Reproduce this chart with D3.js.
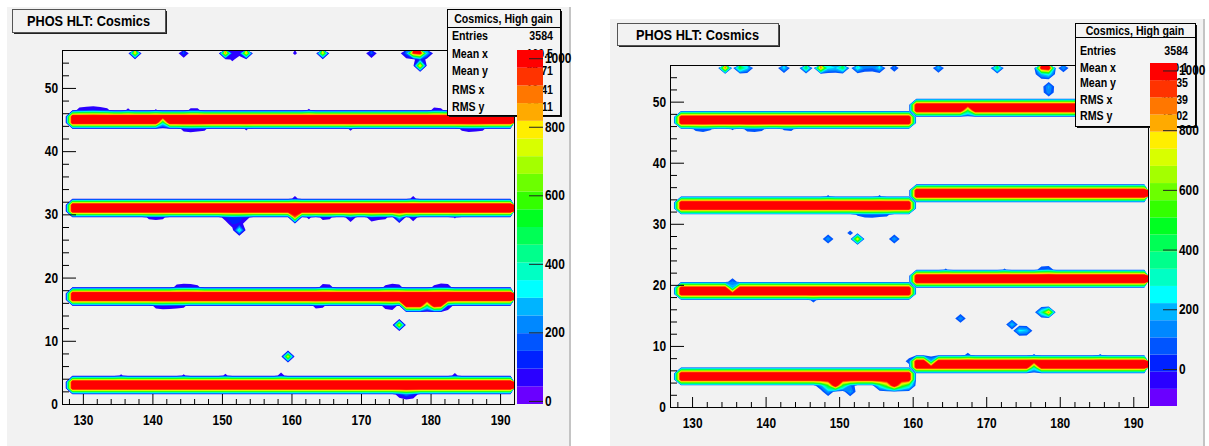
<!DOCTYPE html>
<html>
<head>
<meta charset="utf-8">
<script src="https://cdn.jsdelivr.net/npm/d3@7"></script>
<style>
  body { margin: 0; background: #fff; }
  text { font-family: "Liberation Sans", Arial, sans-serif; font-weight: bold; }
</style>
</head>
<body>
<svg width="1209" height="446"></svg>
<script>
var svg = d3.select("svg");

// colour bands of the palette, bottom to top
var palette = ["#6a00ff","#2a00ff","#0022ff","#0055ff","#0088ff","#00b4ff","#00ffff","#00ffc4",
  "#00ff8c","#00ff55","#00ff22","#33ff00","#6cff00","#a4ff00","#d8ff00","#ffee00",
  "#ffaa00","#ff7700","#ff3300","#ff0000"];

var xMajor = [130, 140, 150, 160, 170, 180, 190];
var yMajor = [0, 10, 20, 30, 40, 50];
var zMajor = [0, 200, 400, 600, 800, 1000];

var leftZRange = [-9, 1024];
var rightZRange = [-124, 1025];

// histogram grid: x bins 127..191 (width 1), y bins 0..55
var xFirstBin = 127, nx = 65, ny = 56;

// tracks: [y bin, first x bin, last x bin + 1, content]
var leftTracks = [
  [2,128,192,1160],[3,128,192,1160],[16,128,192,1160],[17,128,192,1160],
  [30,128,192,1160],[31,128,192,1160],[44,128,192,1160],[45,128,192,1160]
];
var rightTracks = [
  [4,128,160,1150],[5,128,160,1150],[6,160,192,1150],[7,160,192,1150],
  [18,128,160,1150],[19,128,160,1150],[20,160,192,1150],[21,160,192,1150],
  [32,128,160,1150],[33,128,160,1150],[34,160,192,1150],[35,160,192,1150],
  [46,128,160,1150],[47,128,160,1150],[48,160,192,1150],[49,160,192,1150]
];

// single bins: [x bin, y bin, content]
var leftHits = [
  [137,55,850],[144,55,160],[150,55,900],[151,55,90],[152,55,80],[153,55,850],[151,54,60],
  [160,55,60],[164,55,800],[171,55,180],[176,55,200],[177,55,1000],[178,55,1100],[179,55,300],
  [178,54,160],[178,53,880],
  [141,44,400],
  [129,46,70],[130,46,90],[131,46,110],[132,46,80],[133,46,60],[136,46,60],[140,46,50],
  [145,46,60],[146,46,60],[162,46,55],[180,46,70],[181,46,60],
  [144,43,70],[145,43,90],[146,43,70],[147,43,60],[153,43,55],[168,43,60],
  [184,43,60],[185,43,80],[186,43,70],[187,43,60],
  [160,32,70],[177,32,70],
  [160,29,900],[168,29,150],[171,29,120],[175,29,350],[177,29,100],
  [139,29,60],[140,29,70],[141,29,60],[150,29,90],[151,29,120],[152,29,110],[153,29,80],
  [162,29,60],[164,29,70],[165,29,60],[172,29,70],[173,29,60],[183,29,50],
  [151,28,100],[152,28,90],[152,27,420],
  [176,15,1100],[177,15,1100],[178,15,1100],[179,15,450],[180,15,1100],[181,15,1000],
  [143,18,70],[144,18,90],[145,18,80],[146,18,60],[164,18,80],[165,18,70],
  [173,18,60],[174,18,90],[175,18,70],[180,18,60],[181,18,100],[182,18,80],
  [140,15,70],[141,15,90],[142,15,80],[143,15,70],[144,15,60],[163,15,70],[164,15,60],
  [173,15,80],[174,15,120],[182,15,120],
  [175,12,800],[159,7,800],
  [135,4,55],[144,4,55],[150,4,60],[158,4,80],[183,4,70],
  [175,1,90],[176,1,200],[177,1,120]
];
var rightHits = [
  [134,55,900],[136,55,500],[137,55,250],[142,55,250],[145,55,450],[147,55,900],[148,55,250],
  [149,55,220],[150,55,450],[152,55,300],[153,55,120],[154,55,110],[155,55,250],[157,55,120],
  [163,55,200],[171,55,450],[177,55,1100],[178,55,1200],[177,54,200],[178,54,300],[180,55,160],
  [178,52,180],[178,51,150],
  [167,48,450],
  [130,45,70],[131,45,90],[132,45,60],[135,45,60],[137,45,80],[138,45,90],[139,45,70],
  [142,45,60],[143,45,70],
  [148,34,60],[155,34,60],
  [152,31,60],[153,31,90],[154,31,100],[155,31,80],[156,31,70],
  [148,27,180],[152,27,800],[151,28,80],[157,27,180],
  [135,19,200],[135,20,120],[146,17,80],
  [164,22,60],[172,22,60],[177,22,100],[178,22,120],
  [166,14,170],[173,13,230],[174,12,260],[175,12,220],[177,15,350],[178,15,900],
  [147,3,150],[148,3,500],[149,3,1150],[150,3,450],[151,3,120],
  [155,3,300],[156,3,600],[157,3,1150],[158,3,600],[159,3,350],
  [148,2,170],[151,2,180],
  [162,7,200],[176,6,350],[159,7,90],
  [167,8,80],[176,8,60],[185,8,60]
];

var statNames = ["Entries", "Mean x", "Mean y", "RMS x", "RMS y"];
var leftStats = ["3584", "160.5", "23.71", "18.41", "16.11"];
var rightStats = ["3584", "160.1", "26.35", "18.39", "15.02"];
var titleText = "PHOS HLT: Cosmics";
var statsTitle = "Cosmics, High gain";

function buildGrid(tracks, hits) {
  var v = new Array(nx * ny).fill(0);
  tracks.forEach(function(t) {
    for (var x = t[1]; x < t[2]; x++) v[t[0] * nx + (x - xFirstBin)] = t[3];
  });
  hits.forEach(function(h) { v[h[1] * nx + (h[0] - xFirstBin)] = h[2]; });
  return v;
}

function styleText(sel, size) {
  sel.selectAll("text").attr("font-family", null).attr("font-size", size)
    .attr("fill", "#000");
}

function drawPanel(id, c, tracks, hits, zRange, stats) {
  var g = svg.append("g");

  // canvas
  g.append("rect").attr("x", c.canvas[0]).attr("y", c.canvas[1])
    .attr("width", c.canvas[2]).attr("height", c.canvas[3]).attr("fill", "#f2f2f2");
  g.append("rect").attr("x", c.canvas[0] + c.canvas[2]).attr("y", c.canvas[1])
    .attr("width", 2).attr("height", c.canvas[3]).attr("fill", "#c4c4c4");

  var xs = d3.scaleLinear().domain([127, 192]).range([c.frame[0], c.frame[2]]);
  var ys = d3.scaleLinear().domain([0, 56]).range([c.frame[3], c.frame[1]]);

  g.append("clipPath").attr("id", "clip" + id).append("rect")
    .attr("x", c.frame[0]).attr("y", c.frame[1])
    .attr("width", c.frame[2] - c.frame[0]).attr("height", c.frame[3] - c.frame[1]);

  // contours
  var step = (zRange[1] - zRange[0]) / palette.length;
  var levels = d3.range(1, palette.length).map(function(k) { return zRange[0] + k * step; })
    .filter(function(t) { return t > 0; });
  var values = buildGrid(tracks, hits);
  var contours = d3.contours().size([nx, ny]).thresholds(levels)(values);
  var proj = d3.geoTransform({
    point: function(x, y) { this.stream.point(xs(xFirstBin + x), ys(y)); }
  });
  var path = d3.geoPath(proj);
  g.append("g").attr("clip-path", "url(#clip" + id + ")")
    .selectAll("path").data(contours).join("path")
    .attr("d", path)
    .attr("fill", function(d) { return palette[Math.round((d.value - zRange[0]) / step)]; });

  // axes
  var xMinor = d3.range(128, 192, 2).filter(function(v) { return v % 10 !== 0; });
  var yMinor = d3.range(0, 56, 2).filter(function(v) { return v % 10 !== 0; });
  var bottom = c.frame[3], left = c.frame[0];

  g.append("g").attr("transform", "translate(0," + bottom + ")")
    .call(d3.axisBottom(xs).tickValues(xMinor).tickSize(-5).tickFormat(""));
  var gx = g.append("g").attr("transform", "translate(0," + bottom + ")")
    .call(d3.axisBottom(xs).tickValues(xMajor).tickSize(-10).tickPadding(11));
  styleText(gx, 14);
  g.append("g").attr("transform", "translate(" + left + ",0)")
    .call(d3.axisLeft(ys).tickValues(yMinor).tickSize(-7).tickFormat(""));
  var gy = g.append("g").attr("transform", "translate(" + left + ",0)")
    .call(d3.axisLeft(ys).tickValues(yMajor).tickSize(-14).tickPadding(4));
  styleText(gy, 14);
  g.selectAll(".domain").remove();

  g.append("rect").attr("x", c.frame[0] + 0.5).attr("y", c.frame[1] + 0.5)
    .attr("width", c.frame[2] - c.frame[0]).attr("height", c.frame[3] - c.frame[1])
    .attr("fill", "none").attr("stroke", "#000");

  // title box
  var t = c.title;
  g.append("rect").attr("x", t[0] + 2).attr("y", t[1] + 2).attr("width", t[2]).attr("height", t[3])
    .attr("fill", "#222");
  g.append("rect").attr("x", t[0] + 0.5).attr("y", t[1] + 0.5).attr("width", t[2]).attr("height", t[3])
    .attr("fill", "#f2f2f2").attr("stroke", "#555");
  g.append("text").attr("x", t[0] + t[2] / 2).attr("y", t[1] + t[3] / 2 + 5.5)
    .attr("text-anchor", "middle").attr("font-size", 15).text(titleText);

  // stats box
  var s = c.stats;
  g.append("rect").attr("x", s[0] + 2).attr("y", s[1] + 2).attr("width", s[2]).attr("height", s[3])
    .attr("fill", "#111");
  g.append("rect").attr("x", s[0] + 0.5).attr("y", s[1] + 0.5).attr("width", s[2]).attr("height", s[3])
    .attr("fill", "#f4f4f4").attr("stroke", "#000");
  g.append("line").attr("x1", s[0]).attr("x2", s[0] + s[2])
    .attr("y1", s[1] + c.headH + 0.5).attr("y2", s[1] + c.headH + 0.5).attr("stroke", "#000");
  g.append("text").attr("x", s[0] + s[2] / 2).attr("y", s[1] + c.headH / 2 + 4.5)
    .attr("text-anchor", "middle").attr("font-size", 12.5).text(statsTitle);
  statNames.forEach(function(name, i) {
    g.append("text").attr("x", s[0] + 5).attr("y", c.rowY[i] + 4.5)
      .attr("font-size", 12.5).text(name);
    g.append("text").attr("x", s[0] + s[2] - 7).attr("y", c.rowY[i] + 4.5)
      .attr("text-anchor", "end").attr("font-size", 12.5).text(stats[i]);
  });

  // palette
  var p = c.pal;
  var zs = d3.scaleLinear().domain(zRange).range([p[3], p[1]]);
  g.append("g").selectAll("rect").data(palette).join("rect")
    .attr("x", p[0]).attr("width", p[2] - p[0])
    .attr("y", function(d, i) { return zs(zRange[0] + (i + 1) * step); })
    .attr("height", function(d, i) { return zs(zRange[0] + i * step) - zs(zRange[0] + (i + 1) * step); })
    .attr("fill", function(d) { return d; });
  var gz = g.append("g").attr("transform", "translate(" + p[2] + ",0)")
    .call(d3.axisRight(zs).tickValues(zMajor).tickSize(-14).tickPadding(2).tickFormat(d3.format("d")));
  gz.select(".domain").remove();
  gz.selectAll("line").attr("stroke", "#222");
  styleText(gz, 14);
}

drawPanel("L", {
  canvas: [7, 7, 562, 439], frame: [62, 50, 514, 404], title: [12, 9, 153, 23],
  stats: [447, 9, 113, 106], headH: 18, rowY: [35, 53, 70, 89, 106], pal: [517, 50, 543, 404]
}, leftTracks, leftHits, leftZRange, leftStats);

drawPanel("R", {
  canvas: [610, 19, 593, 427], frame: [670, 65, 1148, 407], title: [617, 23, 161, 22],
  stats: [1075, 23, 120, 103], headH: 14, rowY: [50, 67, 82, 99, 115], pal: [1150, 63, 1177, 406]
}, rightTracks, rightHits, rightZRange, rightStats);

// ROOT's helvetica is narrower than the installed sans fonts
svg.selectAll("text").each(function() {
  var w = this.getComputedTextLength();
  if (w > 0) d3.select(this).attr("textLength", w * 0.85).attr("lengthAdjust", "spacingAndGlyphs");
});
</script>
</body>
</html>
